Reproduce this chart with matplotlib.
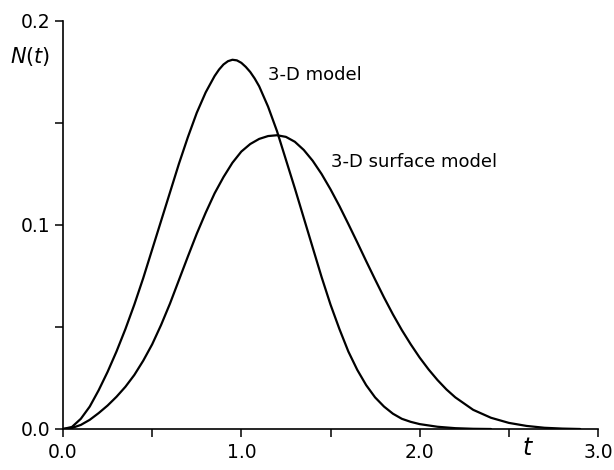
import matplotlib
matplotlib.use("Agg")
import matplotlib.pyplot as plt
from matplotlib.ticker import MultipleLocator

# ---- data ----
t_3d = [0.0, 0.05, 0.1, 0.15, 0.2, 0.25, 0.3, 0.35, 0.4, 0.45, 0.5, 0.55, 0.6,
        0.65, 0.7, 0.75, 0.8, 0.85, 0.875, 0.9, 0.925, 0.95, 0.975, 1.0, 1.025,
        1.05, 1.075, 1.1, 1.15, 1.2, 1.25, 1.3, 1.35, 1.4, 1.45, 1.5, 1.55, 1.6,
        1.65, 1.7, 1.75, 1.8, 1.85, 1.9, 1.95, 2.0, 2.1, 2.2, 2.3, 2.4]
n_3d = [0.0, 0.001, 0.005, 0.011, 0.019, 0.028, 0.038, 0.049, 0.061, 0.074,
        0.088, 0.102, 0.116, 0.130, 0.143, 0.155, 0.165, 0.173, 0.1762, 0.1787,
        0.1803, 0.181, 0.1807, 0.1795, 0.1775, 0.175, 0.1718, 0.168, 0.158,
        0.146, 0.132, 0.118, 0.1035, 0.089, 0.0745, 0.061, 0.049, 0.038, 0.029,
        0.0215, 0.0155, 0.011, 0.0075, 0.005, 0.0035, 0.0024, 0.0011, 0.0004,
        0.0001, 0.0]

t_surf = [0.0, 0.05, 0.1, 0.15, 0.2, 0.25, 0.3, 0.35, 0.4, 0.45, 0.5, 0.55, 0.6,
          0.65, 0.7, 0.75, 0.8, 0.85, 0.9, 0.95, 1.0, 1.05, 1.1, 1.15, 1.2, 1.25,
          1.3, 1.35, 1.4, 1.45, 1.5, 1.55, 1.6, 1.65, 1.7, 1.75, 1.8, 1.85, 1.9,
          1.95, 2.0, 2.05, 2.1, 2.15, 2.2, 2.3, 2.4, 2.5, 2.6, 2.7, 2.8, 2.9]
n_surf = [0.0, 0.0005, 0.002, 0.0045, 0.0078, 0.0115, 0.0158, 0.0207, 0.0265,
          0.0335, 0.0415, 0.051, 0.0615, 0.073, 0.0845, 0.0957, 0.106, 0.1155,
          0.1235, 0.1305, 0.136, 0.1397, 0.1422, 0.1436, 0.144, 0.1432, 0.1408,
          0.1368, 0.1315, 0.125, 0.1175, 0.1093, 0.1005, 0.0915, 0.0823, 0.0733,
          0.0645, 0.0562, 0.0485, 0.0415, 0.035, 0.0292, 0.024, 0.0194, 0.0155,
          0.0094, 0.0055, 0.003, 0.0015, 0.0006, 0.0002, 0.0]

x_ticks = [0.0, 1.0, 2.0, 3.0]
x_tick_labels = ["0.0", "1.0", "2.0", "3.0"]
y_ticks = [0.0, 0.1, 0.2]
y_tick_labels = ["0.0", "0.1", "0.2"]

label_3d = "3-D model"
label_surf = "3-D surface model"

plt.rcParams['font.family'] = ['DejaVu Sans']

fig = plt.figure(figsize=(6.14, 4.70), dpi=100)
ax = fig.add_axes([63/614, 41/470, 535/614, 408/470])

ax.plot(t_3d, n_3d, color='black', lw=1.6, solid_capstyle='round',
        solid_joinstyle='round')
ax.plot(t_surf, n_surf, color='black', lw=1.6, solid_capstyle='round',
        solid_joinstyle='round')

ax.set_xlim(0, 3.0)
ax.set_ylim(0, 0.2)
for s in ['top', 'right']:
    ax.spines[s].set_visible(False)
for s in ['left', 'bottom']:
    ax.spines[s].set_linewidth(1.2)

ax.set_xticks(x_ticks)
ax.set_xticklabels(x_tick_labels)
ax.set_yticks(y_ticks)
ax.set_yticklabels(y_tick_labels)
ax.xaxis.set_minor_locator(MultipleLocator(0.5))
ax.yaxis.set_minor_locator(MultipleLocator(0.05))
ax.tick_params(axis='both', which='both', direction='out', length=6, width=1.1,
               labelsize=13.5)
ax.tick_params(axis='x', which='major', pad=4)
ax.tick_params(axis='y', which='major', pad=3)

ax.text(1.152, 0.1735, label_3d, fontsize=13, va='center', ha='left')
ax.text(1.5, 0.131, label_surf, fontsize=13, va='center', ha='left')

fig.text(30/614, 1 - 56/470, r"$\mathit{N}(t)$", fontsize=15, ha='center', va='center')
fig.text(528/614, 1 - 448/470, r"$t$", fontsize=17, ha='center', va='center')

fig.savefig("out.png", dpi=100)
